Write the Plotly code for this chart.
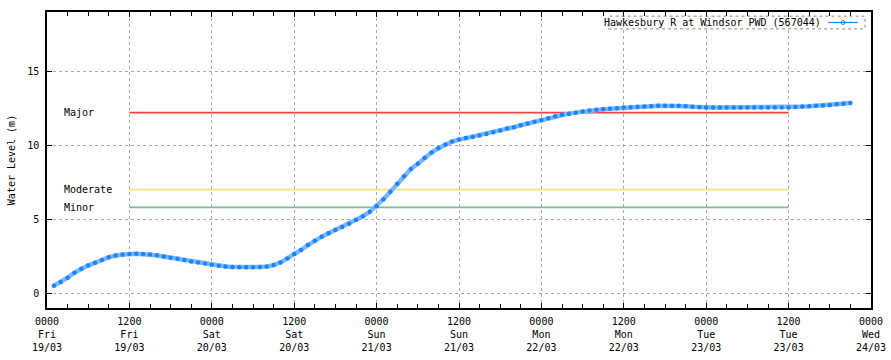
import pandas as pd
import plotly.graph_objects as go

# Hourly water level readings (m), starting 01:00 Fri 19/03/2021
level = [
    0.50, 0.75, 1.05, 1.38, 1.65, 1.88, 2.05, 2.25, 2.43, 2.55, 2.62, 2.65,
    2.66, 2.65, 2.62, 2.56, 2.48, 2.40, 2.32, 2.24, 2.15, 2.08, 2.00, 1.93,
    1.86, 1.80, 1.77, 1.76, 1.76, 1.76, 1.77, 1.80, 1.90, 2.08, 2.35, 2.65,
    2.92, 3.25, 3.55, 3.82, 4.05, 4.27, 4.48, 4.70, 4.95, 5.20, 5.50, 5.88,
    6.35, 6.85, 7.40, 7.90, 8.40, 8.75, 9.15, 9.50, 9.80, 10.05, 10.25, 10.38,
    10.48, 10.56, 10.65, 10.75, 10.88, 11.00, 11.12, 11.22, 11.35, 11.47, 11.58, 11.70,
    11.82, 11.95, 12.05, 12.13, 12.20, 12.27, 12.34, 12.39, 12.43, 12.46, 12.50, 12.54,
    12.57, 12.60, 12.62, 12.64, 12.66, 12.67, 12.67, 12.66, 12.64, 12.60, 12.56, 12.54,
    12.54, 12.54, 12.54, 12.54, 12.54, 12.54, 12.54, 12.54, 12.54, 12.54, 12.54, 12.55,
    12.58, 12.61, 12.63, 12.66, 12.69, 12.72, 12.76, 12.80, 12.85,
]
start_time = "2021-03-19 01:00"
series_name = "Hawkesbury R at Windsor PWD (567044)"

# Flood classification levels (m)
flood_names = ["Major", "Moderate", "Minor"]
flood_levels = [12.2, 7.0, 5.8]
flood_colors = ["#ee4444", "#ffdd88", "#77bb99"]
flood_span = ["2021-03-19 12:00", "2021-03-23 12:00"]

# X tick positions and labels
tick_times = pd.date_range("2021-03-19 00:00", "2021-03-24 00:00", freq="12h")
tick_labels = [
    "0000<br>Fri<br>19/03", "1200<br>Fri<br>19/03",
    "0000<br>Sat<br>20/03", "1200<br>Sat<br>20/03",
    "0000<br>Sun<br>21/03", "1200<br>Sun<br>21/03",
    "0000<br>Mon<br>22/03", "1200<br>Mon<br>22/03",
    "0000<br>Tue<br>23/03", "1200<br>Tue<br>23/03",
    "0000<br>Wed<br>24/03",
]

times = pd.date_range(start_time, periods=len(level), freq="h")
FONT = "DejaVu Sans Mono"

fig = go.Figure()
for name, lv, col in zip(flood_names, flood_levels, flood_colors):
    fig.add_trace(go.Scatter(x=flood_span, y=[lv, lv], mode="lines",
                             line=dict(color=col, width=1.6),
                             showlegend=False, hoverinfo="skip"))
    fig.add_annotation(x="2021-03-19 02:10", y=lv, text=name, showarrow=False,
                       xanchor="left", yanchor="middle",
                       font=dict(family=FONT, size=10, color="#000"))

fig.add_trace(go.Scatter(x=times, y=level, mode="lines+markers", name=series_name,
                         line=dict(color="#7db8ff", width=4.5),
                         marker=dict(color="#1a84ff", size=4.5, symbol="circle"),
                         showlegend=False))

# Legend replica (text left of the symbol, dotted frame)
fig.add_annotation(xref="paper", yref="paper", x=0.9415, y=0.9645, text=series_name,
                   showarrow=False, xanchor="right", yanchor="middle",
                   font=dict(family=FONT, size=10, color="#000"))
fig.add_shape(type="rect", xref="paper", yref="paper", x0=0.681, x1=0.9927,
              y0=0.943, y1=0.986, line=dict(color="#888", width=1, dash="dot"))
fig.add_shape(type="line", xref="paper", yref="paper", x0=0.948, x1=0.984,
              y0=0.9645, y1=0.9645, line=dict(color="#1a84ff", width=1.2))
fig.add_trace(go.Scatter(x=[0.966], y=[0.9645], xaxis="x2", yaxis="y2", mode="markers",
                         marker=dict(color="#ffffff", size=4,
                                     line=dict(color="#1a84ff", width=1)),
                         showlegend=False, hoverinfo="skip"))

fig.update_layout(
    width=891, height=360,
    margin=dict(l=47, r=20, t=12, b=52),
    paper_bgcolor="white", plot_bgcolor="white",
    font=dict(family=FONT, size=10, color="#000"),
    showlegend=False,
    xaxis=dict(
        range=["2021-03-19 00:00", "2021-03-24 00:00"],
        tickvals=tick_times, ticktext=tick_labels, automargin=False,
        showgrid=True, gridcolor="#aaaaaa", griddash="dot", gridwidth=1,
        showline=True, linecolor="#000", linewidth=1.5, mirror="ticks",
        ticks="inside", ticklen=5, tickcolor="#000",
        minor=dict(dtick=3 * 3600 * 1000, ticks="inside", ticklen=4,
                   tickcolor="#000", showgrid=False),
        zeroline=False, ticklabelstandoff=3,
        tickfont=dict(family=FONT, size=10),
    ),
    yaxis=dict(
        range=[-1, 19], tickvals=[0, 5, 10, 15], automargin=False,
        showgrid=True, gridcolor="#aaaaaa", griddash="dot", gridwidth=1,
        showline=True, linecolor="#000", linewidth=1.5, mirror="ticks",
        ticks="inside", ticklen=5, tickcolor="#000",
        zeroline=False, ticklabelstandoff=4,
        title=dict(text="Water Level (m)", standoff=10,
                   font=dict(family=FONT, size=10)),
        tickfont=dict(family=FONT, size=10),
    ),
    xaxis2=dict(range=[0, 1], domain=[0, 1], overlaying="x", visible=False,
                fixedrange=True),
    yaxis2=dict(range=[0, 1], domain=[0, 1], overlaying="y", visible=False,
                fixedrange=True),
)

fig.write_html("out.html", config={"displayModeBar": False},
               post_script="document.body.style.margin='0';document.body.style.padding='0';")
